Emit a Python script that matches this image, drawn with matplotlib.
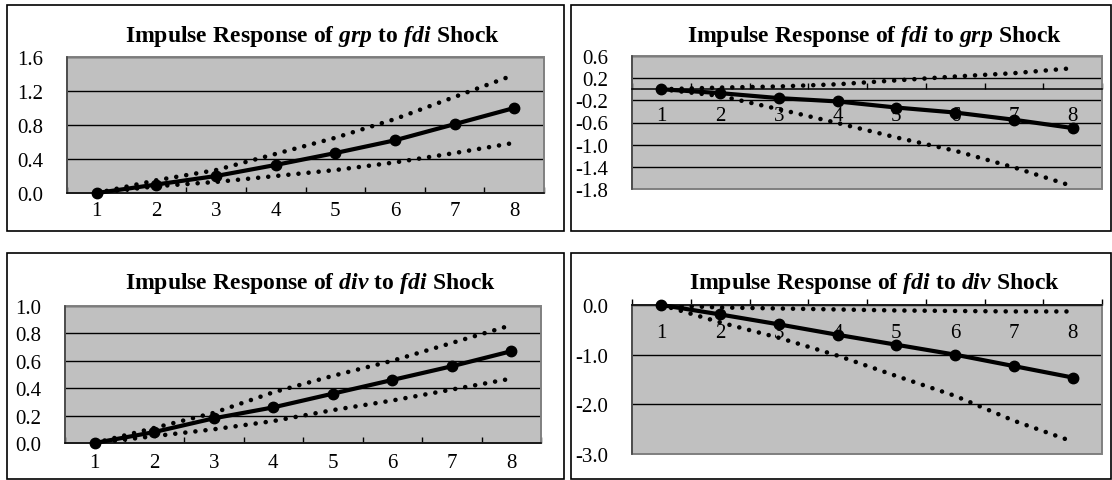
import matplotlib.pyplot as plt
from matplotlib.patches import Rectangle

plt.rcParams['font.family'] = 'Liberation Serif'
plt.rcParams['mathtext.fontset'] = 'custom'
plt.rcParams['mathtext.rm'] = 'Liberation Serif:bold'
plt.rcParams['mathtext.it'] = 'Liberation Serif:italic:bold'
plt.rcParams['mathtext.bf'] = 'Liberation Serif:bold'

W, H = 1112, 481

periods = [1, 2, 3, 4, 5, 6, 7, 8]

# grp response to fdi shock
grp_fdi = [0.0, 0.10, 0.20, 0.33, 0.47, 0.62, 0.81, 1.00]
grp_fdi_hi = [0.0, 0.15, 0.27, 0.46, 0.65, 0.87, 1.13, 1.39]
grp_fdi_lo = [0.0, 0.08, 0.13, 0.20, 0.27, 0.36, 0.47, 0.59]

# fdi response to grp shock
fdi_grp = [0.0, -0.07, -0.16, -0.22, -0.33, -0.42, -0.55, -0.70]
fdi_grp_hi = [0.0, 0.03, 0.05, 0.09, 0.16, 0.23, 0.29, 0.38]
fdi_grp_lo = [0.0, -0.12, -0.36, -0.61, -0.87, -1.11, -1.41, -1.75]

# div response to fdi shock
div_fdi = [0.0, 0.08, 0.18, 0.26, 0.36, 0.46, 0.56, 0.67]
div_fdi_hi = [0.0, 0.11, 0.22, 0.37, 0.49, 0.60, 0.73, 0.86]
div_fdi_lo = [0.0, 0.05, 0.10, 0.16, 0.24, 0.31, 0.39, 0.47]

# fdi response to div shock
fdi_div = [0.0, -0.19, -0.39, -0.60, -0.80, -1.00, -1.23, -1.46]
fdi_div_hi = [0.0, -0.05, -0.07, -0.09, -0.11, -0.12, -0.13, -0.13]
fdi_div_lo = [0.0, -0.35, -0.66, -1.02, -1.43, -1.83, -2.33, -2.75]

ticks_tl = [0.0, 0.4, 0.8, 1.2, 1.6]
ticks_tr = [-1.8, -1.4, -1.0, -0.6, -0.2, 0.2, 0.6]
ticks_bl = [0.0, 0.2, 0.4, 0.6, 0.8, 1.0]
ticks_br = [-3.0, -2.0, -1.0, 0.0]


def title(a, b):
    return (r"$\mathrm{Impulse\ Response\ of\ }\mathit{%s}\mathrm{\ to\ }"
            r"\mathit{%s}\mathrm{\ Shock}$" % (a, b))


fig = plt.figure(figsize=(W / 100, H / 100), dpi=100)


def px_rect(x0, y0, x1, y1):
    return [x0 / W, 1 - y1 / H, (x1 - x0) / W, (y1 - y0) / H]


def panel(box, frame, mid, hi, lo, yticks, xpad, ttl, ty):
    ax = fig.add_axes(px_rect(*box))
    ax.set_facecolor('#c0c0c0')
    for band in (hi, lo):
        ax.plot(periods, band, color='black', lw=3.3, dashes=(0.01, 2.2),
                dash_capstyle='round', zorder=3)
    ax.plot(periods, mid, color='black', lw=3.0, marker='o', ms=7.5,
            zorder=4, clip_on=False)
    ax.set_xlim(0.5, 8.5)
    ax.set_ylim(yticks[0], yticks[-1])
    ax.set_yticks(yticks)
    ax.set_yticklabels(["%.1f" % v for v in yticks])
    ax.set_xticks(periods)
    ax.set_xticks([p - 0.5 for p in periods] + [8.5], minor=True)
    ax.yaxis.grid(True, color='black', lw=1.0)
    ax.set_axisbelow(True)
    ax.spines['top'].set_visible(False)
    ax.spines['right'].set_visible(False)
    ax.spines['left'].set_color('#404040')
    ax.spines['left'].set_linewidth(1.1)
    ax.spines['bottom'].set_position(('data', 0))
    ax.spines['bottom'].set_color('black')
    ax.spines['bottom'].set_linewidth(1.1)
    ax.spines['bottom'].set_zorder(3.5)
    ax.add_patch(Rectangle((0, 0), 1, 1, transform=ax.transAxes, fill=False,
                           ec='#808080', lw=1.4, clip_on=False, zorder=2.4))
    ax.tick_params(axis='x', which='major', length=0, pad=xpad, labelsize=15)
    ax.tick_params(axis='x', which='minor', direction='in', length=4,
                   width=1, color='black')
    ax.tick_params(axis='y', length=0, pad=17, labelsize=15)
    cx = (box[0] + box[2]) / 2 + 7
    fig.text(cx / W, 1 - ty / H, ttl, ha='center', va='baseline', fontsize=17)
    fig.add_artist(Rectangle((frame[0] / W, 1 - frame[3] / H),
                             (frame[2] - frame[0]) / W,
                             (frame[3] - frame[1]) / H,
                             transform=fig.transFigure, fill=False,
                             ec='black', lw=1.2))
    return ax


panel((67, 58, 544, 194), (7, 6, 564, 232), grp_fdi, grp_fdi_hi, grp_fdi_lo,
      ticks_tl, 6, title('grp', 'fdi'), 42)
panel((632, 57, 1102, 190), (571, 6, 1110.5, 232), fdi_grp, fdi_grp_hi,
      fdi_grp_lo, ticks_tr, 12, title('fdi', 'grp'), 42)
panel((65, 307, 541, 444), (7, 254, 564, 480), div_fdi, div_fdi_hi,
      div_fdi_lo, ticks_bl, 7, title('div', 'fdi'), 289)
panel((632, 306, 1102, 455), (571, 254, 1110.5, 480), fdi_div, fdi_div_hi,
      fdi_div_lo, ticks_br, 13, title('fdi', 'div'), 289)

fig.savefig('out.png', dpi=100)
